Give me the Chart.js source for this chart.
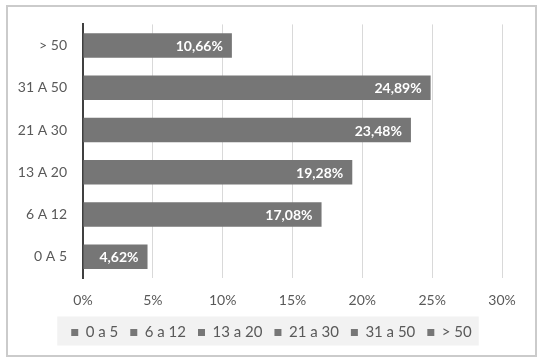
<!DOCTYPE html>
<html>
<head>
<meta charset="utf-8">
<script src="https://cdn.jsdelivr.net/npm/chart.js@4"></script>
<style>
  html, body { margin: 0; padding: 0; background: #ffffff; }
  #wrap { position: relative; width: 543px; height: 360px; }
</style>
</head>
<body>
<div id="wrap"><canvas id="myChart" width="543" height="360"></canvas></div>
<script>
// Kategori (atas ke bawah) dan nilai persentase
var categories = ["> 50", "31 A 50", "21 A 30", "13 A 20", "6 A 12", "0 A 5"];
var values = [10.66, 24.89, 23.48, 19.28, 17.08, 4.62];
// Label legenda (sesuai urutan di gambar)
var legendLabels = ["0 a 5", "6 a 12", "13 a 20", "21 a 30", "31 a 50", "> 50"];
// Tick sumbu x
var xMin = 0;
var xMax = 30;
var xStep = 5;

var barColor = "#767676";
var textColor = "#595959";
var legendFontSize = 15;
var legendBox = 7;
var legendPad = 12;

// Plugin untuk bingkai luar dan latar legenda
var backgroundPlugin = {
    id: "backgroundPlugin",
    afterLayout: function (chart) {
        // legenda dipusatkan pada lebar penuh kanvas
        var lg = chart.legend;
        lg.left = 0;
        lg.right = chart.width;
        lg.width = chart.width;
    },
    beforeDraw: function (chart) {
        var ctx = chart.ctx;
        ctx.save();
        ctx.fillStyle = "#ffffff";
        ctx.fillRect(0, 0, chart.width, chart.height);
        ctx.strokeStyle = "#cbcbcb";
        ctx.lineWidth = 2;
        ctx.strokeRect(7, 6, 529, 350);

        // latar abu-abu di belakang legenda, lebar dihitung dari teks
        var lg = chart.legend;
        ctx.font = legendFontSize + "px Lato";
        var w = 0;
        legendLabels.forEach(function (lbl, i) {
            w += legendBox + legendFontSize / 2 + ctx.measureText(lbl).width;
            if (i > 0) w += legendPad;
        });
        var center = (lg.left + lg.right) / 2;
        var x0 = center - w / 2;
        var mid = lg.top + lg.height / 2;
        ctx.fillStyle = "#f2f2f2";
        ctx.fillRect(x0 - 14, mid - 15, w + 21, 29);
        ctx.restore();
    },
};

// Plugin untuk label nilai di ujung batang
var valueLabelPlugin = {
    id: "valueLabelPlugin",
    afterDatasetsDraw: function (chart) {
        var ctx = chart.ctx;
        var meta = chart.getDatasetMeta(0);
        ctx.save();
        ctx.font = "bold 14px Lato";
        ctx.fillStyle = "#ffffff";
        ctx.textAlign = "right";
        ctx.textBaseline = "middle";
        meta.data.forEach(function (bar, i) {
            var text = values[i].toFixed(2).replace(".", ",") + "%";
            ctx.fillText(text, bar.x - 9, bar.y + 1);
        });
        ctx.restore();
    },
};

var ctx = document.getElementById("myChart").getContext("2d");
var myChart = new Chart(ctx, {
    type: "bar",
    data: {
        labels: categories,
        datasets: [
            {
                label: "Persentase",
                data: values,
                backgroundColor: barColor,
                borderWidth: 0,
                categoryPercentage: 1.0,
                barPercentage: 0.58,
            },
        ],
    },
    options: {
        indexAxis: "y",
        responsive: false,
        animation: false,
        devicePixelRatio: 1,
        layout: {
            padding: { top: 24, right: 41, left: 0, bottom: 10 },
        },
        scales: {
            x: {
                min: xMin,
                max: xMax,
                ticks: {
                    stepSize: xStep,
                    color: textColor,
                    font: { family: "Lato", size: 14 },
                    padding: 14,
                    callback: function (v) {
                        return v + "%";
                    },
                },
                grid: {
                    color: "#d9d9d9",
                    lineWidth: 1,
                    drawTicks: false,
                },
                border: { display: false },
                afterFit: function (scale) {
                    scale.height = 35;
                },
            },
            y: {
                ticks: {
                    color: textColor,
                    font: { family: "Lato", size: 14 },
                    padding: 16,
                },
                grid: { display: false, drawTicks: false },
                border: { display: true, color: "#404040", width: 2 },
                afterFit: function (scale) {
                    scale.width = 83;
                },
            },
        },
        plugins: {
            tooltip: { enabled: false },
            legend: {
                position: "bottom",
                labels: {
                    color: textColor,
                    font: { family: "Lato", size: legendFontSize },
                    boxWidth: legendBox,
                    boxHeight: legendBox,
                    padding: legendPad,
                    generateLabels: function () {
                        return legendLabels.map(function (lbl) {
                            return {
                                text: lbl,
                                fillStyle: barColor,
                                strokeStyle: barColor,
                                lineWidth: 0,
                                fontColor: textColor,
                            };
                        });
                    },
                },
            },
        },
    },
    plugins: [backgroundPlugin, valueLabelPlugin],
});
</script>
</body>
</html>
